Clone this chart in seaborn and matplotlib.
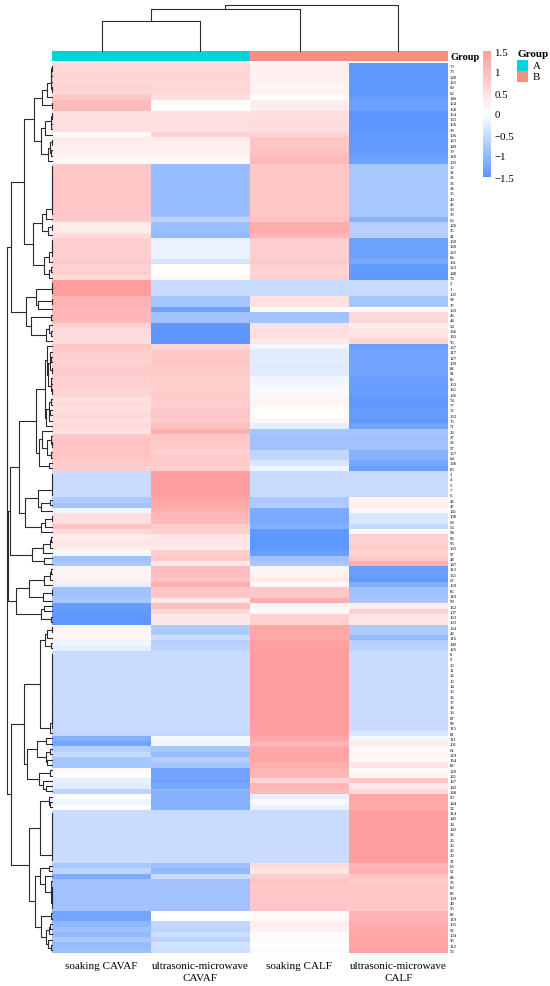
import numpy as np
import pandas as pd
import seaborn as sns
import matplotlib.pyplot as plt
from matplotlib.colors import LinearSegmentedColormap, ListedColormap

# ------------------------------------------------------------------
# data (one value per row and treatment)
columns = ["soaking CAVAF", "ultrasonic-microwave\nCAVAF",
           "soaking CALF", "ultrasonic-microwave\nCALF"]
groups = ["A", "A", "B", "B"]
group_colors = {"A": "#00D4DC", "B": "#FA8C82"}

row_labels = [70, 73, 128, 133, 69, 62, 146, 124, 158, 154,
              155, 156, 78, 106, 123, 149, 79, 118, 100, 30,
              31, 32, 33, 34, 35, 40, 43, 59, 39, 65,
              126, 36, 41, 150, 160, 132, 66, 131, 122, 148,
              76, 2, 1, 102, 58, 37, 130, 45, 44, 54,
              166, 165, 55, 137, 117, 127, 109, 88, 91, 85,
              153, 161, 136, 74, 77, 72, 152, 75, 71, 29,
              27, 28, 57, 157, 64, 138, 80, 3, 4, 5,
              7, 6, 46, 47, 141, 108, 68, 56, 94, 96,
              95, 135, 97, 48, 147, 113, 151, 67, 159, 86,
              110, 99, 162, 107, 163, 103, 134, 42, 116, 140,
              125, 8, 9, 10, 11, 12, 13, 14, 15, 16,
              17, 18, 19, 87, 98, 115, 81, 111, 101, 61,
              129, 164, 89, 120, 121, 167, 143, 168, 90, 144,
              52, 114, 145, 24, 142, 26, 25, 23, 22, 20,
              21, 63, 51, 84, 38, 60, 82, 139, 49, 50,
              83, 119, 105, 92, 104, 93, 112, 53]

soaking_cavaf = [0.5, 0.5, 0.5, 0.5, 0.5, 0.5, 0.8, 0.85, 0.8, 0.4,
                 0.4, 0.4, 0.45, 0.0, 0.15, 0.15, 0.1, 0.1, 0.05, 0.6,
                 0.6, 0.6, 0.6, 0.6, 0.6, 0.6, 0.6, 0.6, 0.6, 0.5,
                 0.15, 0.15, 0.2, 0.6, 0.6, 0.6, 0.6, 0.6, 0.6, 0.6,
                 0.35, 1.0, 1.0, 0.95, 0.9, 0.9, 0.8, 0.8, 0.75, 0.6,
                 0.5, 0.45, 0.3, 0.6, 0.6, 0.5, 0.45, 0.6, 0.55, 0.5,
                 0.5, 0.45, 0.4, 0.3, 0.35, 0.3, 0.35, 0.3, 0.3, 0.15,
                 0.6, 0.6, 0.6, 0.55, 0.5, 0.4, 0.2, -0.4, -0.4, -0.4,
                 -0.4, -0.4, -0.6, -0.7, -0.1, 0.3, 0.3, 0.5, 0.35, 0.2,
                 0.15, 0.2, -0.2, -0.8, -0.8, 0.0, 0.0, 0.0, -0.2, -0.8,
                 -0.8, -0.8, -1.3, -1.3, -1.3, -1.3, 0.0, 0.0, 0.0, -0.2,
                 -0.3, -0.4, -0.4, -0.4, -0.4, -0.4, -0.4, -0.4, -0.4, -0.4,
                 -0.4, -0.4, -0.4, -0.4, -0.4, -0.4, -0.4, -1.0, -1.0, -0.6,
                 -0.5, -0.7, -0.7, 0.0, -0.1, -0.3, -0.2, -0.6, 0.0, -0.15,
                 0.0, -0.4, -0.4, -0.4, -0.4, -0.4, -0.4, -0.4, -0.4, -0.4,
                 -0.4, -0.8, -0.6, -1.1, -0.8, -0.8, -0.8, -0.8, -0.8, -0.8,
                 -1.2, -1.1, -1.0, -0.8, -0.8, -0.6, -0.8, -0.7]

us_cavaf = [0.5, 0.5, 0.5, 0.5, 0.45, 0.45, 0.45, -0.05, -0.05, 0.4,
            0.4, 0.4, 0.4, 0.5, 0.15, 0.15, 0.1, 0.1, 0.05, -0.8,
            -0.8, -0.8, -0.8, -0.8, -0.8, -0.8, -0.8, -0.8, -0.8, -0.55,
            -0.8, -0.8, -0.8, -0.2, -0.2, -0.2, -0.2, -0.4, 0.0, 0.0,
            0.0, -0.4, -0.4, -0.4, -0.75, -0.75, -1.1, -0.7, -0.7, -1.4,
            -1.4, -1.4, -1.4, 0.4, 0.6, 0.6, 0.6, 0.6, 0.55, 0.55,
            0.5, 0.55, 0.5, 0.55, 0.5, 0.6, 0.6, 0.55, 0.6, 0.75,
            0.6, 0.5, 0.5, 0.4, 0.45, 0.4, 0.2, 1.0, 1.0, 1.0,
            1.0, 1.0, 1.0, 0.95, 0.9, 0.7, 0.7, 0.4, 0.5, 0.25,
            0.15, 0.2, 0.6, 0.5, 0.1, 0.7, 0.7, 0.6, 0.9, 0.5,
            0.5, 0.1, 0.7, 0.4, 0.3, 0.3, -0.7, -0.7, -0.5, -0.6,
            -0.6, -0.4, -0.4, -0.4, -0.4, -0.4, -0.4, -0.4, -0.4, -0.4,
            -0.4, -0.4, -0.4, -0.4, -0.4, -0.4, -0.4, -0.15, -0.15, -0.7,
            -0.8, -0.6, -0.7, -1.1, -1.1, -1.2, -1.0, -1.0, -0.9, -0.9,
            -0.9, -0.4, -0.4, -0.4, -0.4, -0.4, -0.4, -0.4, -0.4, -0.4,
            -0.4, -0.9, -0.9, -0.5, -0.8, -0.8, -0.8, -0.8, -0.8, -0.8,
            -0.1, -0.05, -0.6, -0.6, -0.4, -0.5, -0.4, -0.4]

soaking_calf = [0.15, 0.15, 0.1, 0.15, 0.05, 0.1, 0.0, 0.15, 0.15, 0.4,
                0.4, 0.45, 0.45, 0.5, 0.7, 0.7, 0.75, 0.8, 0.9, 0.6,
                0.6, 0.6, 0.6, 0.6, 0.6, 0.6, 0.6, 0.6, 0.6, 0.6,
                0.95, 0.95, 0.6, 0.6, 0.6, 0.6, 0.6, 0.6, 0.6, 0.5,
                0.5, -0.4, -0.4, -0.4, 0.3, 0.3, 0.0, -0.7, -0.7, 0.4,
                0.4, 0.4, 0.15, -0.2, -0.3, -0.3, -0.3, -0.3, -0.3, -0.2,
                -0.2, -0.15, -0.2, 0.0, 0.0, -0.1, -0.2, 0.0, -0.3, -0.8,
                -0.8, -0.8, -0.8, -0.6, -0.6, -0.5, -0.35, -0.4, -0.4, -0.4,
                -0.4, -0.4, -0.6, -0.6, -0.9, -0.9, -0.9, -0.9, -1.3, -1.3,
                -1.3, -1.3, -1.3, -0.8, -0.8, 0.0, 0.05, 0.1, 0.05, 0.5,
                0.5, 0.9, 0.0, 0.0, 0.6, 0.6, 1.0, 1.0, 1.0, 1.0,
                1.0, 1.0, 1.0, 1.0, 1.0, 1.0, 1.0, 1.0, 1.0, 1.0,
                1.0, 1.0, 1.0, 1.0, 1.0, 1.0, 1.0, 1.0, 0.8, 0.95,
                0.95, 0.95, 0.8, 0.8, 0.8, 0.4, 0.9, 0.9, -0.2, -0.1,
                -0.15, -0.4, -0.4, -0.4, -0.4, -0.4, -0.4, -0.4, -0.4, -0.4,
                -0.4, 0.4, 0.2, 0.6, 0.6, 0.55, 0.55, 0.55, 0.55, 0.55,
                0.0, 0.0, 0.1, 0.05, 0.0, -0.1, -0.1, -0.1]

us_calf = [-1.4, -1.4, -1.4, -1.4, -1.4, -1.35, -1.3, -1.3, -1.2, -1.4,
           -1.4, -1.4, -1.4, -1.3, -1.4, -1.4, -1.4, -1.35, -1.2, -0.7,
           -0.7, -0.7, -0.7, -0.7, -0.7, -0.7, -0.7, -0.7, -0.7, -0.9,
           -0.6, -0.6, -0.6, -1.2, -1.2, -1.2, -1.2, -1.1, -1.3, -1.3,
           -1.3, -0.4, -0.4, -0.4, -0.75, -0.75, 0.0, 0.4, 0.4, 0.2,
           0.3, 0.35, 0.4, -1.2, -1.2, -1.1, -1.1, -1.1, -1.1, -1.2,
           -1.2, -1.2, -1.3, -1.4, -1.4, -1.4, -1.4, -1.3, -1.1, -0.8,
           -0.8, -0.8, -0.8, -1.0, -1.0, -1.2, -1.1, -0.4, -0.4, -0.4,
           -0.4, -0.4, 0.1, 0.15, 0.1, -0.3, -0.3, -0.5, 0.0, 0.5,
           0.35, 0.6, 0.5, 0.5, 0.8, -1.3, -1.2, -1.4, -0.9, -0.8,
           -0.8, -0.8, 0.1, 0.5, 0.3, 0.35, -0.7, -0.7, -0.9, -0.6,
           -0.6, -0.4, -0.4, -0.4, -0.4, -0.4, -0.4, -0.4, -0.4, -0.4,
           -0.4, -0.4, -0.4, -0.4, -0.4, -0.4, -0.25, -0.15, 0.2, 0.0,
           0.0, 0.0, 0.2, 0.0, 0.05, 0.6, 0.3, 0.5, 1.0, 1.0,
           1.0, 1.0, 1.0, 1.0, 1.0, 1.0, 1.0, 1.0, 1.0, 1.0,
           1.0, 0.9, 0.8, 0.7, 0.5, 0.55, 0.55, 0.55, 0.55, 0.55,
           0.9, 0.9, 0.9, 0.9, 0.9, 0.9, 0.9, 0.9]

# ------------------------------------------------------------------
plt.rcParams['font.family'] = ['Liberation Serif', 'DejaVu Serif']

datos = pd.DataFrame({columns[0]: soaking_cavaf, columns[1]: us_cavaf,
                      columns[2]: soaking_calf, columns[3]: us_calf},
                     index=[str(r) for r in row_labels])
# scale="row" as in pheatmap
zdat = datos.sub(datos.mean(axis=1), axis=0).div(datos.std(axis=1), axis=0)


def ordered_tree(mat):
    # complete linkage where only neighbouring clusters may merge,
    # so the tree fits the row order of the figure
    d = np.sqrt(((mat[:, None, :] - mat[None, :, :]) ** 2).sum(-1))
    nodes = [([i], i + 0.5, 0.0) for i in range(len(mat))]
    segs = []
    while len(nodes) > 1:
        gaps = [d[np.ix_(a[0], b[0])].max() for a, b in zip(nodes[:-1], nodes[1:])]
        k = int(np.argmin(gaps))
        (ma, pa, ha), (mb, pb, hb) = nodes[k], nodes[k + 1]
        h = gaps[k]
        segs.append(([ha, h, h, hb], [pa, pa, pb, pb]))
        nodes[k:k + 2] = [(ma + mb, (pa + pb) / 2, h)]
    return segs, nodes[0][2]


W, H = 550, 987
fig = plt.figure(figsize=(W / 100, H / 100), dpi=100)


def box(x0, y0, x1, y1):
    return [x0 / W, 1 - y1 / H, (x1 - x0) / W, (y1 - y0) / H]


ax_hm = fig.add_axes(box(52, 64, 448, 954))
cax = fig.add_axes(box(483, 52, 491, 178))
ax_grp = fig.add_axes(box(52, 52, 448, 62))
ax_top = fig.add_axes(box(52, 6, 448, 52))
ax_left = fig.add_axes(box(0, 64, 52, 954))
ax_leg = fig.add_axes(box(517, 61, 528, 83))

cmap = LinearSegmentedColormap.from_list("bw_soft", ["#5C96FF", "#FFFFFF", "#FF9E9E"])
sns.heatmap(zdat, ax=ax_hm, cmap=cmap, vmin=-1.5, vmax=1.5, cbar_ax=cax,
            xticklabels=True, yticklabels=True)

ax_hm.yaxis.set_ticks_position('right')
ax_hm.tick_params(axis='y', length=0, pad=1, labelsize=3.4, labelright=True, labelleft=False)
ax_hm.tick_params(axis='x', length=0, pad=5.5, labelsize=8)
plt.setp(ax_hm.get_yticklabels(), rotation=0)
for t in ax_hm.get_xticklabels():
    t.set_rotation(0)
    t.set_ha('center')
    t.set_linespacing(1.55)
ax_hm.set_xlabel('')
ax_hm.set_ylabel('')

cbar = ax_hm.collections[0].colorbar
cbar.outline.set_visible(False)
cbar.set_ticks([-1.5, -1, -0.5, 0, 0.5, 1, 1.5])
cbar.set_ticklabels(['\u22121.5', '\u22121', '\u22120.5', '0', '0.5', '1', '1.5'])
cax.tick_params(length=0, labelsize=7.8, pad=2.5)

# group annotation bar
grp_cmap = ListedColormap([group_colors['A'], group_colors['B']])
grp_codes = pd.DataFrame([[0 if g == 'A' else 1 for g in groups]])
sns.heatmap(grp_codes, ax=ax_grp, cmap=grp_cmap, vmin=0, vmax=1, cbar=False,
            xticklabels=False, yticklabels=False)
ax_grp.text(1.006, 0.5, 'Group', transform=ax_grp.transAxes, ha='left', va='center',
            fontsize=7.5, fontweight='bold')

# group legend (one swatch per group level)
levels = sorted(set(groups))
sns.heatmap(pd.DataFrame([[i] for i in range(len(levels))]), ax=ax_leg, cmap=grp_cmap,
            vmin=0, vmax=1, cbar=False, xticklabels=False, yticklabels=False)
for i, g in enumerate(levels):
    ax_leg.text(1.45, i + 0.5, g, transform=ax_leg.get_yaxis_transform(),
                ha='left', va='center', fontsize=7.8)
ax_leg.text(0, 1.08, 'Group', transform=ax_leg.transAxes, ha='left', va='bottom',
            fontsize=8, fontweight='bold')

# dendrograms
row_segs, row_top = ordered_tree(zdat.values)
for hs, ps in row_segs:
    ax_left.plot(hs, ps, color='#2b2b2b', lw=0.8, clip_on=False)
ax_left.set_ylim(len(zdat), 0)
ax_left.set_xlim(row_top * 52 / 45, 0)
ax_left.axis('off')

col_segs, col_top = ordered_tree(zdat.values.T)
for hs, ps in col_segs:
    ax_top.plot(ps, hs, color='#2b2b2b', lw=0.8, clip_on=False)
ax_top.set_xlim(0, 4)
ax_top.set_ylim(0, col_top)
ax_top.axis('off')

fig.savefig('out.png', dpi=100)
